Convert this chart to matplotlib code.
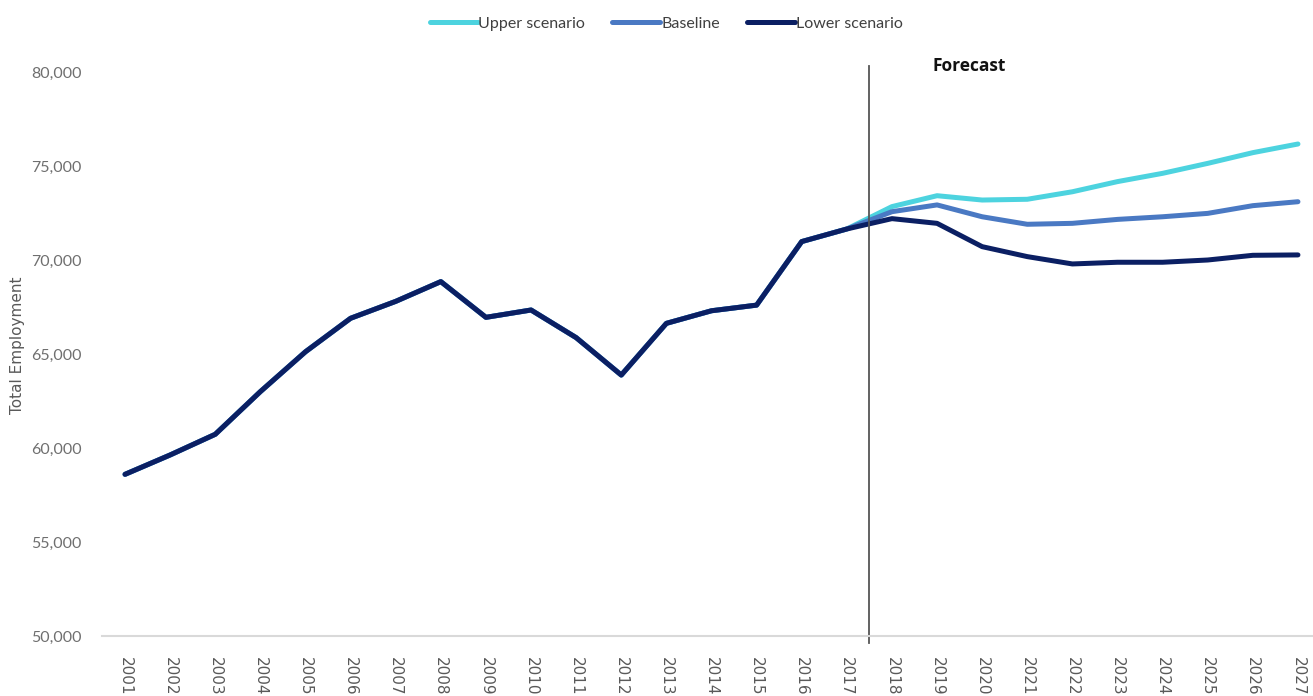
import matplotlib
matplotlib.use("Agg")
import matplotlib.pyplot as plt
from matplotlib.ticker import FuncFormatter

# data
years = list(range(2001, 2028))
history = [58600, 59630, 60730, 63000, 65120, 66900, 67800, 68850, 66950, 67340,
           65870, 63880, 66630, 67300, 67600, 70980, 71650]
upper_fc = [72840, 73420, 73190, 73230, 73630, 74170, 74610, 75140, 75710, 76170]
base_fc = [72570, 72930, 72300, 71900, 71950, 72160, 72300, 72480, 72890, 73100]
lower_fc = [72200, 71950, 70710, 70180, 69790, 69880, 69880, 70000, 70250, 70270]

upper = history + upper_fc
baseline = history + base_fc
lower = history + lower_fc

forecast_start = 2017.5

W, H = 1313, 696
fig = plt.figure(figsize=(W / 100, H / 100), dpi=100)
ax = fig.add_axes([102.5 / W, 60 / H, 1218 / W, 564 / H])

ax.plot(years, upper, color="#4dd3df", lw=3.6, label="Upper scenario", solid_capstyle="round")
ax.plot(years, baseline, color="#4a79c3", lw=3.6, label="Baseline", solid_capstyle="round")
ax.plot(years, lower, color="#0b1f63", lw=3.6, label="Lower scenario", solid_capstyle="round")

# forecast divider
ax.plot([forecast_start, forecast_start], [80330, 49620], color="#555555", lw=1.3, clip_on=False)
ax.text(2018.9, 80300, "Forecast", fontsize=12.5, fontweight="bold", family="Open Sans",
        va="center", ha="left", color="#111111")

ax.set_xlim(2000.5, 2027.5)
ax.set_ylim(50000, 80000)
ax.set_xticks(years)
ax.set_xticklabels([str(y) for y in years], rotation=270, fontsize=11, color="#595959",
                   family="DejaVu Sans")
ax.set_yticks(range(50000, 80001, 5000))
ax.yaxis.set_major_formatter(FuncFormatter(lambda v, p: f"{int(v):,}"))
for lab in ax.get_yticklabels():
    lab.set_family("Lato")
    lab.set_fontsize(11.5)
    lab.set_color("#6f6f6f")
ax.tick_params(axis="both", length=0)
ax.tick_params(axis="y", pad=15)
ax.tick_params(axis="x", pad=15)

for s in ["top", "right", "left"]:
    ax.spines[s].set_visible(False)
ax.spines["bottom"].set_color("#d9d9d9")
ax.spines["bottom"].set_linewidth(1.5)

ax.set_ylabel("Total Employment", fontsize=11, color="#595959")
ax.yaxis.set_label_coords(-0.0636, 0.516)

leg = fig.legend(loc="center", bbox_to_anchor=(666 / W, 1 - 24 / H), ncol=3, frameon=False,
                 handlelength=3.0, handletextpad=0.05, columnspacing=1.7,
                 prop={"family": "Lato", "size": 11.5})
for t in leg.get_texts():
    t.set_color("#404040")

fig.savefig("out.png", dpi=100)
